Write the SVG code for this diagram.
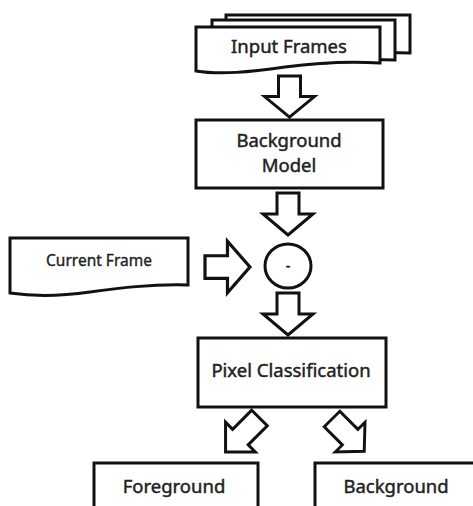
<svg xmlns="http://www.w3.org/2000/svg" width="473" height="506" viewBox="0 0 473 506">
<style>
.s{fill:#fff;stroke:#111;stroke-width:3;stroke-linejoin:miter}
.t{font-family:"Noto Sans","Open Sans",sans-serif;font-size:18.5px;fill:#222;stroke:#222;stroke-width:0.45;text-anchor:middle}
.sm{font-size:15.5px;stroke-width:0.35}
</style>
<defs>
<polygon id="arr" points="-11,0 11,0 11,21 25,21 0,42 -25,21 -11,21"/>
<polygon id="darr" points="-11,0 11,0 11,27 21,27 0,48 -21,27 -11,27"/>
</defs>
<rect width="473" height="506" fill="#fff"/>
<g id="input-frames">
<path class="s" d="M226,15 H410 V53 C380,52 360,54 340,56 L226,56 Z"/>
<path class="s" d="M212,20 H395 V60 C365,59 345,61 325,63 L212,63 Z"/>
<path class="s" d="M196,27 H380 V63 C345,61 315,63 285,67 C250,72 220,75 196,71 Z"/>
<text class="t" x="289" y="53">Input Frames</text>
</g>
<g id="background-model">
<rect class="s" x="196" y="120" width="187" height="68"/>
<text class="t" x="289" y="147">Background</text>
<text class="t" x="289" y="172">Model</text>
</g>
<g id="subtract">
<ellipse class="s" cx="288" cy="266" rx="23" ry="22"/>
<text class="t" x="288" y="271" style="font-size:14px">-</text>
</g>
<g id="current-frame">
<path class="s" d="M10,238 H188 V285 C150,284 120,288 90,292 C55,297 30,296 10,293 Z"/>
<text class="t sm" x="99" y="266">Current Frame</text>
</g>
<g id="pixel-classification">
<rect class="s" x="198" y="338" width="188" height="69"/>
<text class="t" x="291" y="377">Pixel Classification</text>
</g>
<g id="foreground">
<rect class="s" x="94" y="463" width="164" height="60"/>
<text class="t" x="174" y="493">Foreground</text>
</g>
<g id="background">
<rect class="s" x="315" y="463" width="175" height="60"/>
<text class="t" x="396" y="493">Background</text>
</g>
<g id="connectors">
<use href="#arr" class="s" transform="translate(289.5,76) scale(1,0.98)"/>
<use href="#arr" class="s" transform="translate(288,193)"/>
<use href="#arr" class="s" transform="translate(205,267) rotate(-90) scale(1.03,1.07)"/>
<use href="#arr" class="s" transform="translate(288,293)"/>
<use href="#darr" class="s" transform="translate(259.5,418) rotate(45)"/>
<use href="#darr" class="s" transform="translate(332,419) rotate(-45) scale(1,0.95)"/>
</g>
</svg>
